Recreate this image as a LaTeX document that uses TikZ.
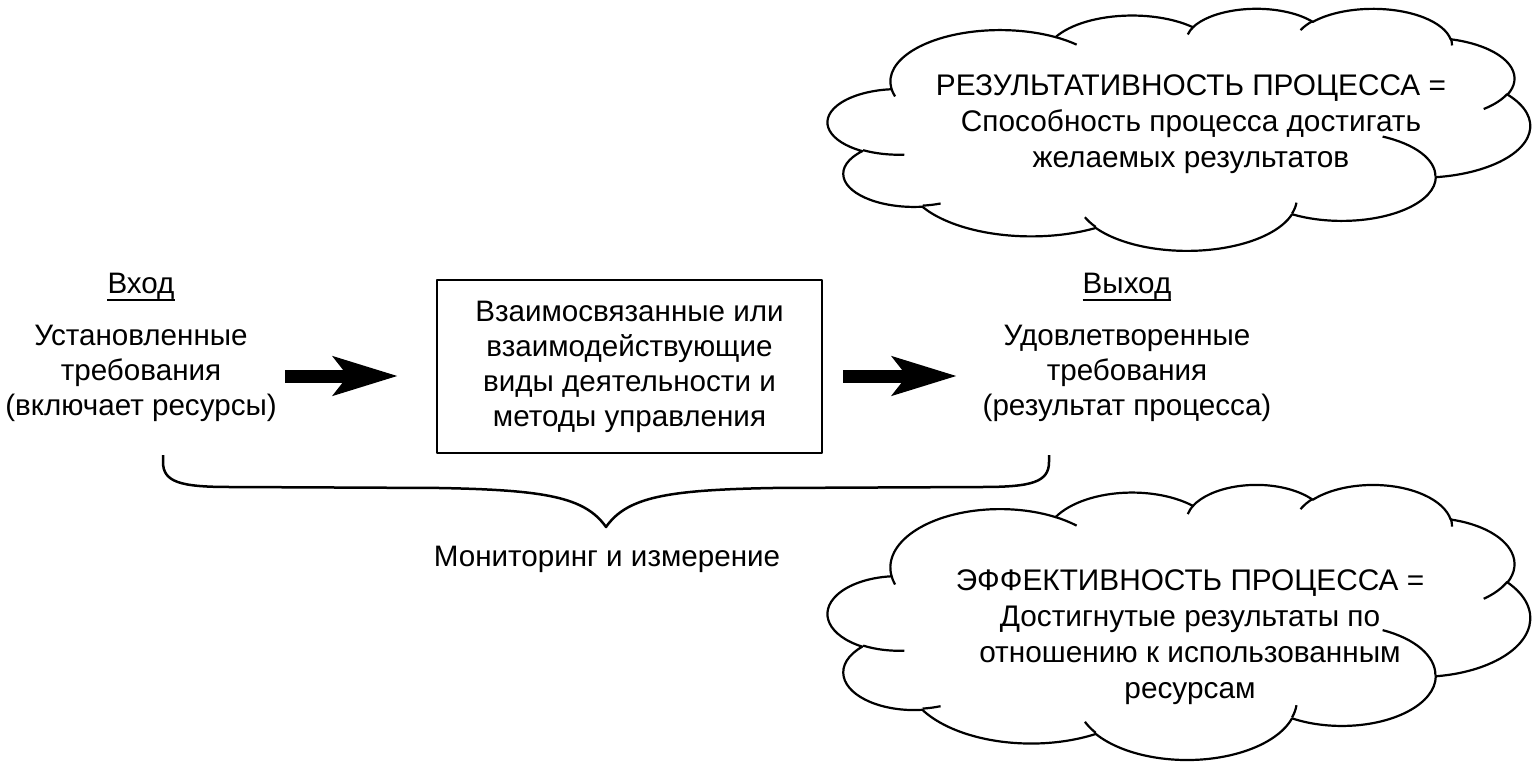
\documentclass[tikz,border=0pt]{standalone}
\usepackage{fontspec}
\setmainfont{Liberation Sans}
\usetikzlibrary{arrows.meta}
\tikzset{
  oarc/.style n args={4}{x radius=#1, y radius=#2,
    start angle={atan2((#1)*sin(#3),(#2)*cos(#3))},
    delta angle={atan2((#1)*sin((#3)+(#4)),(#2)*cos((#3)+(#4))) - atan2((#1)*sin(#3),(#2)*cos(#3)) - 360*round((atan2((#1)*sin((#3)+(#4)),(#2)*cos((#3)+(#4))) - atan2((#1)*sin(#3),(#2)*cos(#3)) - (#4))/360)}},
  txt/.style={font=\fontsize{29.6}{35}\selectfont, align=center, inner sep=0pt},
  cloudtxt/.style={font=\fontsize{29.8}{36}\selectfont, align=center, inner sep=0pt},
  bigarrow/.style={line width=13pt, -{Stealth[length=64pt, width=38pt, inset=14pt]}},
  cloudline/.style={line width=2.2pt},
  braceline/.style={line width=2.5pt},
}
\newcommand\myCloud{%
  \draw[cloudline, fill=white] (39.00,143.70)
    arc[oarc={67.53}{91.90}{-190.4875}{123.7805}]
    arc[oarc={53.33}{72.67}{-144.1024}{89.9452}]
    arc[oarc={43.65}{59.45}{-145.8079}{99.7230}]
    arc[oarc={48.57}{65.95}{-130.9861}{117.2417}]
    arc[oarc={53.33}{72.73}{-78.7089}{109.0269}]
    arc[oarc={67.75}{92.20}{-46.2673}{130.2690}]
    arc[oarc={57.85}{78.67}{0.6250}{114.0333}]
    arc[oarc={67.52}{92.15}{22.4516}{115.1726}]
    arc[oarc={77.20}{105.43}{66.2426}{75.7110}]
    arc[oarc={43.60}{59.18}{-274.9421}{146.7356}]
    arc[oarc={43.45}{59.45}{-246.8285}{152.5189}]
    -- cycle;
  \draw[cloudline]
    (46.93,261.77) arc[oarc={43.45}{59.45}{86.742}{26.4295}]
    (69.28,348.99) arc[oarc={43.60}{59.18}{73.6105}{11.4475}]
    (164.78,390.90) arc[oarc={67.52}{92.15}{137.6242}{14.0811}]
    (288.27,347.51) arc[oarc={67.52}{92.15}{6.4533}{15.9984}]
    (341.29,229.54) arc[oarc={57.85}{78.67}{-70.2924}{70.9174}]
    (417.98,153.54) arc[oarc={53.33}{72.73}{30.3180}{27.7515}]
    (383.24,54.26) arc[oarc={48.57}{65.95}{-13.7443}{14.8589}]
    (290.78,39.52) arc[oarc={48.57}{65.95}{-149.1815}{18.1954}]
    (221.41,47.20) arc[oarc={43.65}{59.45}{-163.4943}{17.6864}]
    (140.00,51.92) arc[oarc={67.53}{91.90}{-66.7070}{12.3194}]
    (41.27,157.89) arc[oarc={67.53}{91.90}{157.6544}{11.8582}];
}
\begin{document}
\begin{tikzpicture}[x=1pt, y=1pt, yscale=-1, line join=round]
\fill[white] (0,0) rectangle (1535,768);
\useasboundingbox (0,0) rectangle (1535,768);

% clouds
\begin{scope}[shift={(828,8)}, xscale=1.625, yscale=0.5602]
  \myCloud
\end{scope}
\begin{scope}[shift={(828,484)}, xscale=1.625, yscale=0.6366]
  \myCloud
\end{scope}
\node[cloudtxt] (c1t) at (1191,124) {РЕЗУЛЬТАТИВНОСТЬ ПРОЦЕССА =\\Способность процесса достигать\\желаемых результатов};
\node[cloudtxt] (c2t) at (1190,637) {ЭФФЕКТИВНОСТЬ ПРОЦЕССА =\\Достигнутые результаты по\\отношению к использованным\\ресурсам};

% input / output
\node[txt, anchor=base] (vhod) at (141,293) {Вход};
\draw[line width=1.5pt] (vhod.base west |- 0,300) -- (vhod.base east |- 0,300);
\node[txt] (in) at (141,373) {Установленные\\требования\\(включает ресурсы)};

\node[txt, anchor=base] (vyhod) at (1127,293) {Выход};
\draw[line width=1.5pt] (vyhod.base west |- 0,300) -- (vyhod.base east |- 0,300);
\node[txt] (out) at (1127,373) {Удовлетворенные\\требования\\(результат процесса)};

\node[txt, draw, line width=2.5pt, minimum width=385pt, minimum height=173pt] (proc) at (629.5,366.5)
  {Взаимосвязанные или\\взаимодействующие\\виды деятельности и\\методы управления};

% arrows
\coordinate (a1s) at (285,376);
\coordinate (a1e) at (398,376);
\coordinate (a2s) at (843,376);
\coordinate (a2e) at (957,376);
\draw[bigarrow] (a1s) -- (a1e);
\draw[bigarrow] (a2s) -- (a2e);

% brace
\coordinate (bl) at (163,455);
\coordinate (br) at (1049,455);
\coordinate (tip) at (606,527);
\draw[braceline] (bl) -- (163,462) .. controls (163,482) and (180,487) .. (230,487)
  -- (440,488) .. controls (545,490) and (585,497) .. (tip)
  .. controls (627,497) and (667,490) .. (772,488)
  -- (982,487) .. controls (1032,487) and (1049,482) .. (1049,462) -- (br);
\node[txt] (mon) at (607,559) {Мониторинг и измерение};
\end{tikzpicture}
\end{document}
